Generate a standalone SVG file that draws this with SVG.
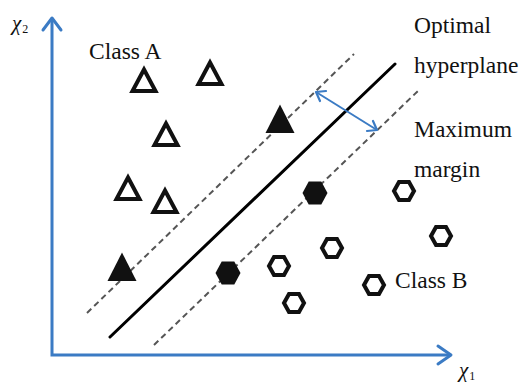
<svg xmlns="http://www.w3.org/2000/svg" width="522" height="385" viewBox="0 0 522 385">
  <style>
    .axis { stroke: #3b7bc4; stroke-width: 3; fill: none; }
    .head { stroke: #3b7bc4; stroke-width: 3; fill: none; stroke-linecap: round; stroke-linejoin: round; }
    .margin { stroke: #3b7bc4; stroke-width: 2; fill: none; }
    .mhead { stroke: #3b7bc4; stroke-width: 2.2; fill: none; stroke-linecap: round; stroke-linejoin: round; }
    .hyper { stroke: #000; stroke-width: 3; fill: none; stroke-linecap: round; }
    .dash { stroke: #555; stroke-width: 2; fill: none; stroke-dasharray: 6 4; }
    .open { fill: none; stroke: #111; stroke-width: 4; stroke-linejoin: miter; }
    .solid { fill: #111; stroke: none; }
    .lbl { font-family: "Liberation Serif", "Times New Roman", serif; font-size: 23.5px; fill: #111; }
    .ax { font-family: "Liberation Serif", "Times New Roman", serif; font-style: italic; font-size: 21px; fill: #111; }
    .sub { font-family: "Liberation Serif", "Times New Roman", serif; font-style: normal; font-size: 12px; fill: #111; }
  </style>
  <defs>
    <path id="triOpen" class="open" d="M0,-10.5 L11.5,11 L-11.5,11 Z"/>
    <path id="triSolid" class="solid" d="M0,-14.5 L14.5,14 L-14.5,14 Z"/>
    <path id="hexOpen" class="open" d="M-10,0 L-5,-9 L5,-9 L10,0 L5,9 L-5,9 Z"/>
    <path id="hexSolid" class="solid" d="M-12.5,0 L-6.3,-11.5 L6.3,-11.5 L12.5,0 L6.3,11.5 L-6.3,11.5 Z"/>
  </defs>
  <rect width="522" height="385" fill="#fff"/>

  <!-- axes -->
  <g id="axes">
    <path class="axis" d="M52,18 L52,355 L451,355"/>
    <path class="head" d="M43,30 L52,18 L61,30"/>
    <path class="head" d="M438,346 L451,355 L438,364"/>
    <text class="ax" x="12" y="30">χ<tspan class="sub" dx="1" dy="3">2</tspan></text>
    <text class="ax" x="459" y="377">χ<tspan class="sub" dx="1" dy="3">1</tspan></text>
  </g>

  <!-- separating lines and margin -->
  <g id="connectors">
    <line class="dash" x1="87" y1="313" x2="354" y2="54"/>
    <line class="dash" x1="154" y1="345" x2="420" y2="89"/>
    <line id="hyperplane" class="hyper" x1="110" y1="337" x2="395" y2="64"/>
    <g id="margin-arrow">
      <line class="margin" x1="316" y1="92" x2="377" y2="130"/>
      <path class="mhead" d="M326,91 L316,92 L320,101"/>
      <path class="mhead" d="M367,131 L377,130 L373,121"/>
    </g>
  </g>

  <!-- class A -->
  <g id="classA">
    <use href="#triOpen" x="144" y="80"/>
    <use href="#triOpen" x="210" y="73"/>
    <use href="#triOpen" x="166" y="134"/>
    <use href="#triOpen" x="128" y="188"/>
    <use href="#triOpen" x="165" y="201"/>
    <use href="#triSolid" x="280" y="119"/>
    <use href="#triSolid" x="122" y="267"/>
  </g>

  <!-- class B -->
  <g id="classB">
    <use href="#hexSolid" x="315" y="193"/>
    <use href="#hexSolid" x="228" y="273"/>
    <use href="#hexOpen" x="404" y="191"/>
    <use href="#hexOpen" x="441" y="236"/>
    <use href="#hexOpen" x="332" y="248"/>
    <use href="#hexOpen" x="279" y="266"/>
    <use href="#hexOpen" x="374" y="285"/>
    <use href="#hexOpen" x="294" y="303"/>
  </g>

  <!-- labels -->
  <g id="labels">
    <text class="lbl" x="89" y="59">Class A</text>
    <text class="lbl" x="395" y="288">Class B</text>
    <text class="lbl" x="414" y="33">Optimal</text>
    <text class="lbl" x="414" y="73">hyperplane</text>
    <text class="lbl" x="414" y="137">Maximum</text>
    <text class="lbl" x="414" y="177">margin</text>
  </g>
</svg>
